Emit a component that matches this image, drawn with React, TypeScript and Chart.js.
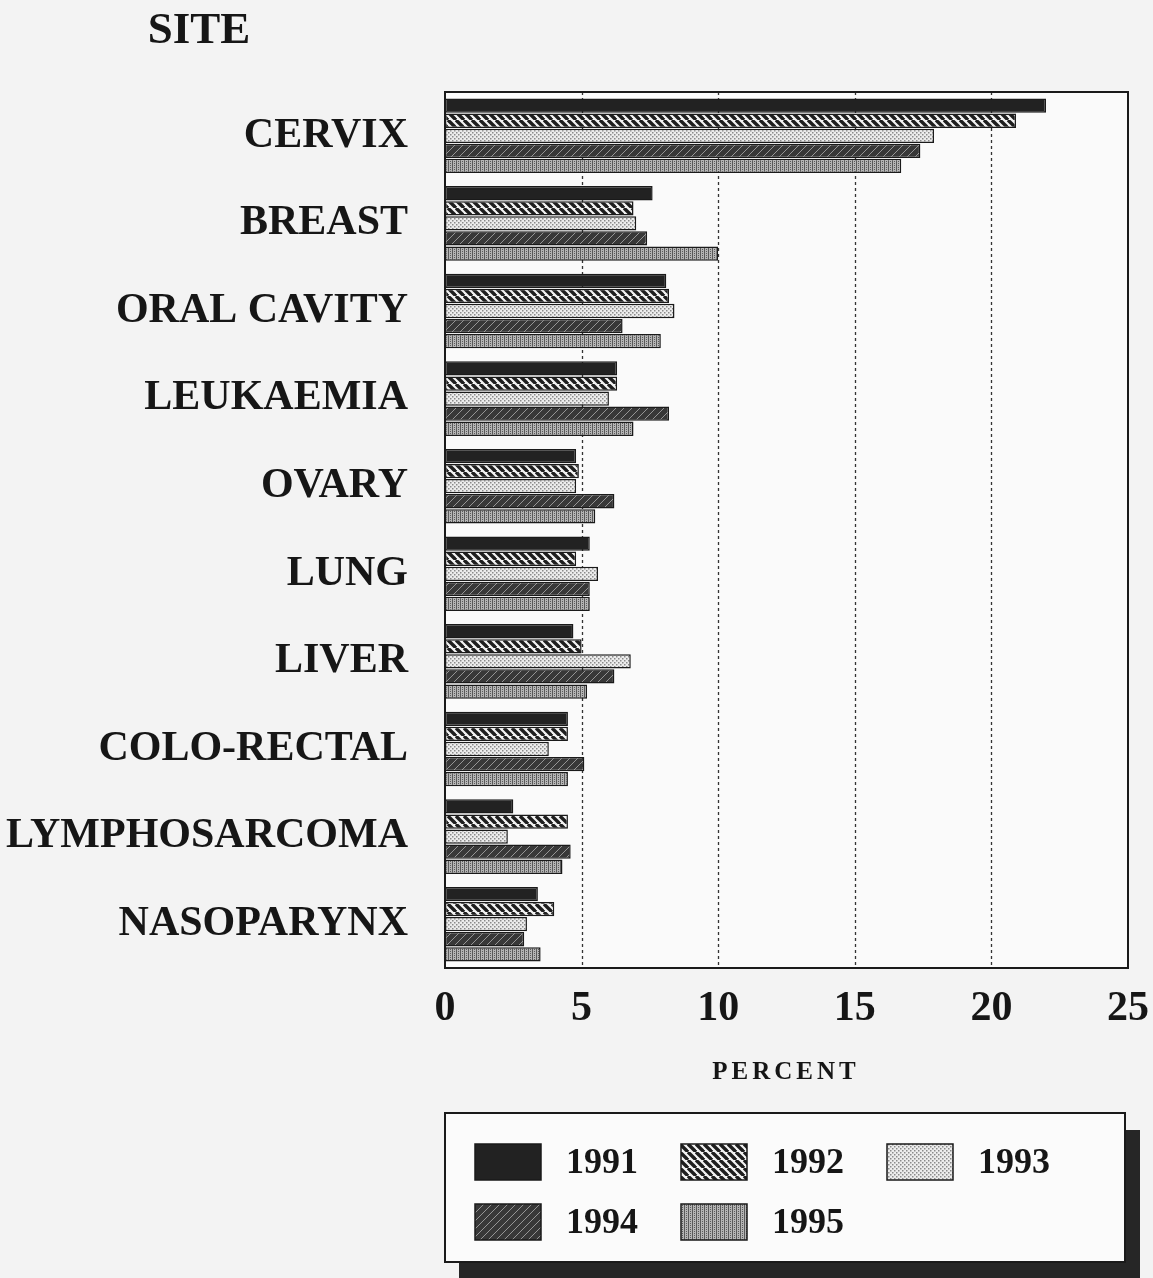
import React, { useEffect, useRef } from 'react';
import { Chart, registerables } from 'chart.js';

Chart.register(...registerables);

const categories = ['CERVIX', 'BREAST', 'ORAL CAVITY', 'LEUKAEMIA', 'OVARY', 'LUNG', 'LIVER', 'COLO-RECTAL', 'LYMPHOSARCOMA', 'NASOPARYNX'];
const years = ['1991', '1992', '1993', '1994', '1995'];
const v1991 = [22.0, 7.6, 8.1, 6.3, 4.8, 5.3, 4.7, 4.5, 2.5, 3.4];
const v1992 = [20.9, 6.9, 8.2, 6.3, 4.9, 4.8, 5.0, 4.5, 4.5, 4.0];
const v1993 = [17.9, 7.0, 8.4, 6.0, 4.8, 5.6, 6.8, 3.8, 2.3, 3.0];
const v1994 = [17.4, 7.4, 6.5, 8.2, 6.2, 5.3, 6.2, 5.1, 4.6, 2.9];
const v1995 = [16.7, 10.0, 7.9, 6.9, 5.5, 5.3, 5.2, 4.5, 4.3, 3.5];
const xTickValues = [0, 5, 10, 15, 20, 25];
const gridValues = [5, 10, 15, 20];
const siteTitle = 'SITE';
const axisTitle = 'PERCENT';

const FONT = '"Liberation Serif", "Times New Roman", serif';
const INK = '#161616';

function makePattern(kind: string): CanvasPattern | string {
  const c = document.createElement('canvas');
  const ctx = c.getContext('2d');
  if (!ctx) return '#444';
  if (kind === 'solid') return '#222222';
  if (kind === 'back') {
    c.width = 8; c.height = 8;
    ctx.fillStyle = '#f4f4f4';
    ctx.fillRect(0, 0, 8, 8);
    ctx.strokeStyle = '#1e1e1e';
    ctx.lineWidth = 3.4;
    for (let o = -8; o <= 8; o += 8) {
      ctx.beginPath();
      ctx.moveTo(o, 0);
      ctx.lineTo(o + 8, 8);
      ctx.stroke();
    }
  } else if (kind === 'dots') {
    c.width = 4; c.height = 4;
    ctx.fillStyle = '#ececec';
    ctx.fillRect(0, 0, 4, 4);
    ctx.fillStyle = '#8a8a8a';
    ctx.fillRect(0, 0, 1.5, 1.5);
    ctx.fillRect(2, 2, 1.5, 1.5);
  } else if (kind === 'darkfwd') {
    c.width = 8; c.height = 8;
    ctx.fillStyle = '#383838';
    ctx.fillRect(0, 0, 8, 8);
    ctx.strokeStyle = '#959595';
    ctx.lineWidth = 1;
    for (let o = -8; o <= 8; o += 8) {
      ctx.beginPath();
      ctx.moveTo(o, 8);
      ctx.lineTo(o + 8, 0);
      ctx.stroke();
    }
  } else if (kind === 'grid') {
    c.width = 4; c.height = 4;
    ctx.fillStyle = '#b5b5b5';
    ctx.fillRect(0, 0, 4, 4);
    ctx.fillStyle = '#5a5a5a';
    ctx.fillRect(0, 0, 1, 4);
    ctx.fillRect(2, 1, 1, 1);
    ctx.fillRect(2, 3, 1, 1);
  }
  const p = ctx.createPattern(c, 'repeat');
  return p || '#888';
}

export default function App() {
  const ref = useRef<HTMLCanvasElement | null>(null);

  useEffect(() => {
    if (!ref.current) return;
    const fills = [
      makePattern('solid'),
      makePattern('back'),
      makePattern('dots'),
      makePattern('darkfwd'),
      makePattern('grid'),
    ];
    const series = [v1991, v1992, v1993, v1994, v1995];

    const decor = {
      id: 'decor',
      beforeDraw(chart: any) {
        const { ctx, chartArea: a } = chart;
        ctx.save();
        ctx.fillStyle = '#f3f3f3';
        ctx.fillRect(0, 0, chart.width, chart.height);
        ctx.fillStyle = '#fafafa';
        ctx.fillRect(a.left, a.top, a.right - a.left, a.bottom - a.top);
        ctx.restore();
      },
      beforeDatasetsDraw(chart: any) {
        const { ctx, chartArea: a, scales } = chart;
        ctx.save();
        ctx.strokeStyle = '#333333';
        ctx.lineWidth = 1.3;
        ctx.setLineDash([3, 3]);
        gridValues.forEach((v) => {
          const x = Math.round(scales.x.getPixelForValue(v)) + 0.5;
          ctx.beginPath();
          ctx.moveTo(x, a.top);
          ctx.lineTo(x, a.bottom);
          ctx.stroke();
        });
        ctx.restore();
      },
      afterDatasetsDraw(chart: any) {
        const { ctx, chartArea: a } = chart;
        ctx.save();
        ctx.strokeStyle = '#1a1a1a';
        ctx.lineWidth = 2;
        ctx.strokeRect(a.left, a.top, a.right - a.left, a.bottom - a.top);
        ctx.restore();
      },
      afterDraw(chart: any) {
        const { ctx } = chart;
        ctx.save();
        ctx.fillStyle = INK;
        ctx.textBaseline = 'middle';
        ctx.textAlign = 'center';
        ctx.font = `bold 45px ${FONT}`;
        ctx.fillText(siteTitle, 199, 31);
        ctx.font = `bold 25px ${FONT}`;
        (ctx as any).letterSpacing = '4px';
        ctx.fillText(axisTitle, 786, 1073);
        (ctx as any).letterSpacing = '0px';

        // legend box with drop shadow
        const bx = 445, by = 1113, bw = 680, bh = 149;
        ctx.fillStyle = '#262626';
        ctx.fillRect(bx + 14, by + 17, bw + 1, bh);
        ctx.fillStyle = '#fbfbfb';
        ctx.fillRect(bx, by, bw, bh);
        ctx.strokeStyle = '#1a1a1a';
        ctx.lineWidth = 2;
        ctx.strokeRect(bx, by, bw, bh);

        const cols = [475, 681, 887];
        const rows = [1144, 1204];
        ctx.font = `bold 36px ${FONT}`;
        ctx.textAlign = 'left';
        years.forEach((yr, i) => {
          const col = i % 3;
          const row = Math.floor(i / 3);
          const sx = cols[col];
          const sy = rows[row];
          ctx.fillStyle = fills[i] as any;
          ctx.fillRect(sx, sy, 66, 36);
          ctx.strokeStyle = '#1a1a1a';
          ctx.lineWidth = 1.5;
          ctx.strokeRect(sx, sy, 66, 36);
          ctx.fillStyle = INK;
          ctx.fillText(yr, sx + 91, sy + 20);
        });
        ctx.restore();
      },
    };

    const chart = new Chart(ref.current, {
      type: 'bar',
      data: {
        labels: categories,
        datasets: years.map((yr, i) => ({
          label: yr,
          data: series[i],
          backgroundColor: fills[i] as any,
          borderColor: '#1a1a1a',
          borderWidth: 1.5,
          borderSkipped: false,
          barPercentage: 0.95,
          categoryPercentage: 0.86,
        })),
      },
      options: {
        indexAxis: 'y',
        animation: false,
        responsive: true,
        maintainAspectRatio: false,
        layout: { padding: { top: 92, right: 25, left: 0, bottom: 0 } },
        plugins: {
          legend: { display: false },
          tooltip: { enabled: false },
          title: { display: false },
        },
        scales: {
          y: {
            type: 'category',
            grid: { display: false, drawTicks: false },
            border: { display: false },
            ticks: {
              color: INK,
              padding: 37,
              font: { family: FONT, size: 42, weight: 'bold' },
            },
            afterFit: (s: any) => { s.width = 445; s.paddingTop = 0; s.paddingBottom = 0; },
          },
          x: {
            type: 'linear',
            min: 0,
            max: 25,
            grid: { display: false, drawTicks: false },
            border: { display: false },
            afterBuildTicks: (s: any) => { s.ticks = xTickValues.map((v) => ({ value: v })); },
            ticks: {
              color: INK,
              padding: 16,
              maxRotation: 0,
              font: { family: FONT, size: 42, weight: 'bold' },
            },
            afterFit: (s: any) => { s.height = 310; s.paddingLeft = 0; s.paddingRight = 0; },
          },
        },
      },
      plugins: [decor],
    });
    return () => chart.destroy();
  }, []);

  return (
    <div style={{ position: 'absolute', left: 0, top: 0, width: 1153, height: 1278 }}>
      <canvas ref={ref} />
    </div>
  );
}
